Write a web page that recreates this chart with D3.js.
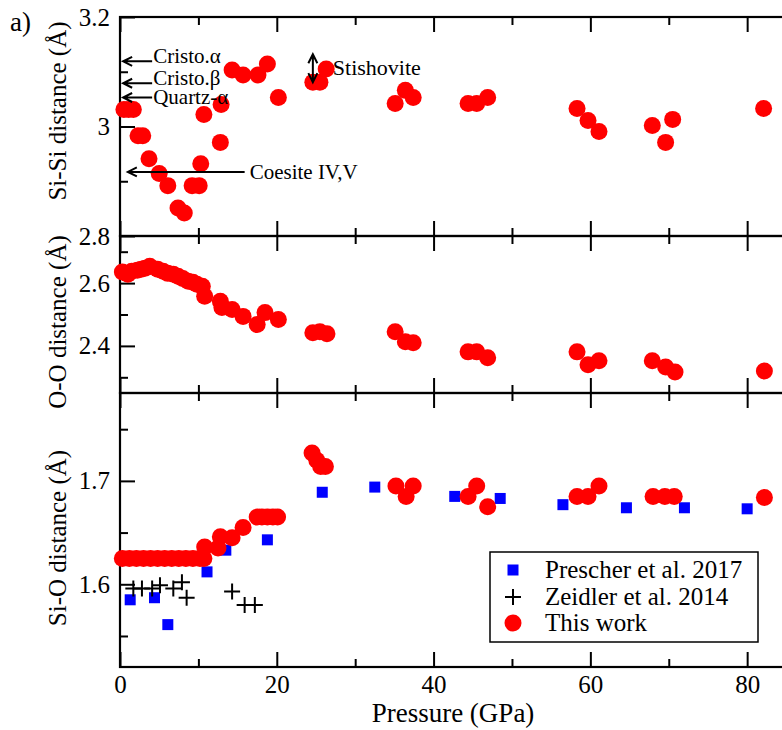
<!DOCTYPE html>
<html><head><meta charset="utf-8">
<script src="https://cdn.jsdelivr.net/npm/d3@7"></script>
<style>html,body{margin:0;padding:0;background:#fff;}</style>
</head>
<body><svg id="c" width="782" height="730" font-family="Liberation Serif"></svg>
<script>
// ---------- DATA ----------
const siSiP = [0.5,1.1,1.7,2.3,2.9,3.7,5.0,6.1,7.4,8.2,9.2,10.1,10.3,10.7,12.8,12.9,14.3,15.7,17.6,18.8,20.2,24.6,25.5,26.3,35.1,36.4,37.4,44.4,45.5,46.9,58.3,59.7,61.1,67.9,69.6,70.5,82.1];
const siSiV = [3.031,3.031,3.031,2.983,2.983,2.941,2.914,2.892,2.851,2.842,2.892,2.892,2.932,3.022,2.971,3.040,3.103,3.094,3.094,3.114,3.053,3.081,3.081,3.105,3.042,3.066,3.053,3.042,3.042,3.053,3.033,3.011,2.991,3.002,2.971,3.013,3.033];

const ooP = [0.3,1.0,1.5,2.2,2.7,3.2,3.8,4.8,5.5,6.1,6.8,7.4,8.0,8.7,9.3,9.8,10.5,10.8,12.8,13.0,14.3,15.7,17.5,18.5,20.2,24.6,25.5,26.4,35.1,36.4,37.4,44.4,45.5,46.9,58.3,59.7,61.1,67.9,69.6,70.8,82.2];
const ooV = [2.635,2.628,2.638,2.641,2.644,2.647,2.654,2.644,2.638,2.631,2.628,2.622,2.615,2.606,2.603,2.596,2.590,2.558,2.542,2.522,2.516,2.494,2.468,2.506,2.484,2.442,2.445,2.439,2.445,2.413,2.410,2.381,2.381,2.362,2.381,2.340,2.353,2.353,2.333,2.317,2.320];

const siOP = [0.3,1.2,2.1,3.0,3.9,4.8,5.7,6.6,7.5,8.4,9.3,10.2,10.7,10.8,12.5,12.8,14.3,15.7,17.5,18.1,18.8,19.5,20.1,24.5,25.1,25.6,26.2,35.2,36.5,37.4,44.4,45.5,46.9,58.3,59.7,61.1,68.0,69.5,70.7,82.2];
const siOV = [1.625,1.625,1.625,1.625,1.625,1.625,1.625,1.625,1.625,1.625,1.625,1.625,1.625,1.636,1.635,1.646,1.645,1.655,1.665,1.665,1.665,1.665,1.665,1.727,1.720,1.714,1.714,1.695,1.685,1.695,1.685,1.695,1.675,1.685,1.685,1.695,1.685,1.685,1.685,1.684];

const prescherP = [1.3,4.4,6.1,11.1,13.5,18.8,25.8,32.5,42.7,48.5,56.5,64.6,72.0,80.0];
const prescherV = [1.585,1.587,1.561,1.612,1.633,1.643,1.689,1.694,1.685,1.683,1.677,1.674,1.674,1.673];

const zeidlerP = [1.7,2.8,4.1,5.1,6.8,7.9,8.5,14.3,15.9,17.2];
const zeidlerV = [1.596,1.596,1.596,1.599,1.596,1.602,1.587,1.593,1.580,1.580];

const xMajor = [0,20,40,60,80];
const xMinor = [10,30,50,70];
const legendLabels = ["Prescher et al. 2017","Zeidler et al. 2014","This work"];

const annotations = [
  {label:"Cristo.\u03b1", y:3.119, x0:0.4, x1:4.1},
  {label:"Cristo.\u03b2", y:3.079, x0:0.4, x1:4.1},
  {label:"Quartz-\u03b1", y:3.053, x0:0.4, x1:4.1},
  {label:"Coesite IV,V", y:2.917, x0:1.0, x1:15.9}
];
const stishovite = {label:"Stishovite", x:24.6, y0:3.132, y1:3.081};

// ---------- LAYOUT ----------
const FONT = "Liberation Serif";
const svg = d3.select("#c");
const x = d3.scaleLinear().domain([0, 84.7]).range([120, 784]);

function txt(parent, s, size) {
  return parent.append("text").attr("font-family", FONT).attr("font-size", size).attr("fill","#000").text(s);
}

const panels = [
  {domain:[2.8,3.2], range:[236,17], major:[2.8,3.0,3.2], minor:[2.9,3.1], fmt:d=>String(+d.toFixed(1)), title:"Si-Si distance (\u00c5)", tcy:111},
  {domain:[2.25,2.75], range:[393,236], major:[2.4,2.6], minor:[2.3,2.5,2.7], fmt:d=>d.toFixed(1), title:"O-O distance (\u00c5)", tcy:322},
  {domain:[1.52,1.785], range:[667,393], major:[1.6,1.7], minor:[1.55,1.65,1.75], fmt:d=>d.toFixed(1), title:"Si-O distance (\u00c5)", tcy:538}
];
panels.forEach(p => p.y = d3.scaleLinear().domain(p.domain).range(p.range));

const FS = 25;

panels.forEach((p, i) => {
  const top = p.range[1], bot = p.range[0];
  const g = svg.append("g");
  const la = g.append("g").attr("transform","translate(120,0)")
    .call(d3.axisLeft(p.y).tickValues(p.major).tickSize(-15).tickPadding(10).tickFormat(p.fmt));
  const lm = g.append("g").attr("transform","translate(120,0)")
    .call(d3.axisLeft(p.y).tickValues(p.minor).tickSize(-8).tickFormat(""));
  const ta = g.append("g").attr("transform",`translate(0,${top})`)
    .call(d3.axisTop(x).tickValues(xMajor).tickSize(-15).tickFormat(""));
  const tm = g.append("g").attr("transform",`translate(0,${top})`)
    .call(d3.axisTop(x).tickValues(xMinor).tickSize(-8).tickFormat(""));
  const ba = g.append("g").attr("transform",`translate(0,${bot})`)
    .call(d3.axisBottom(x).tickValues(xMajor).tickSize(-15).tickPadding(8)
      .tickFormat(i===2 ? d3.format("d") : ""));
  const bm = g.append("g").attr("transform",`translate(0,${bot})`)
    .call(d3.axisBottom(x).tickValues(xMinor).tickSize(-8).tickFormat(""));
  [la,lm,ta,tm,ba,bm].forEach(a => {
    a.attr("font-family", FONT);
    a.select(".domain").remove();
    a.selectAll("line").attr("stroke","#000").attr("stroke-width",2);
    a.selectAll("text").attr("font-family", FONT).attr("font-size",FS).attr("fill","#000");
  });
  g.append("rect").attr("x",120).attr("y",top).attr("width",664).attr("height",bot-top)
    .attr("fill","none").attr("stroke","#000").attr("stroke-width",2.2);
  txt(svg, p.title, FS).attr("transform",`translate(66,${p.tcy}) rotate(-90)`).attr("text-anchor","middle");
});

txt(svg, "Pressure (GPa)", 27).attr("x",453).attr("y",722).attr("text-anchor","middle");
txt(svg, "a)", 27).attr("x",10).attr("y",31);

const RED = "#ff0000", BLUE = "#0000ff";
const R = 8.5, SQ = 11, CR = 8;

function circles(P, V, y) {
  svg.append("g").selectAll("circle").data(P).join("circle")
    .attr("cx", d => x(d)).attr("cy", (d,i) => y(V[i])).attr("r", R).attr("fill", RED);
}
function squares(P, V, y) {
  svg.append("g").selectAll("rect").data(P).join("rect")
    .attr("x", d => x(d) - SQ/2).attr("y", (d,i) => y(V[i]) - SQ/2)
    .attr("width", SQ).attr("height", SQ).attr("fill", BLUE);
}
function crosses(P, V, y) {
  svg.append("g").selectAll("path").data(P).join("path")
    .attr("d", (d,i) => { const cx = x(d), cy = y(V[i]);
      return `M${cx-CR},${cy}H${cx+CR}M${cx},${cy-CR}V${cy+CR}`; })
    .attr("stroke","#000").attr("stroke-width",2).attr("fill","none");
}

circles(siSiP, siSiV, panels[0].y);
circles(ooP, ooV, panels[1].y);
squares(prescherP, prescherV, panels[2].y);
crosses(zeidlerP, zeidlerV, panels[2].y);
circles(siOP, siOV, panels[2].y);

const y1 = panels[0].y;
annotations.forEach((a, i) => {
  const yy = y1(a.y), xa = x(a.x0), xb = x(a.x1);
  svg.append("path").attr("d",`M${xb},${yy}H${xa}M${xa+9},${yy-4.5}L${xa},${yy}L${xa+9},${yy+4.5}`)
    .attr("stroke","#000").attr("stroke-width",2).attr("fill","none");
  const dy = i === 2 ? 7 : (i === 3 ? 7 : 2);
  txt(svg, a.label, 21).attr("x", xb + (i===3?5:1)).attr("y", yy + dy);
});
{
  const sx = x(stishovite.x), ya = y1(stishovite.y0), yb = y1(stishovite.y1);
  svg.append("path").attr("d",`M${sx},${ya}V${yb}M${sx-4.5},${ya+9}L${sx},${ya}L${sx+4.5},${ya+9}M${sx-4.5},${yb-9}L${sx},${yb}L${sx+4.5},${yb-9}`)
    .attr("stroke","#000").attr("stroke-width",2).attr("fill","none");
  txt(svg, stishovite.label, 22).attr("x", sx + 20).attr("y", (ya+yb)/2 + 7);
}

const lg = svg.append("g");
lg.append("rect").attr("x",490).attr("y",552).attr("width",268).attr("height",90)
  .attr("fill","#fff").attr("stroke","#000").attr("stroke-width",1.5);
const ly = [570,597,623];
lg.append("rect").attr("x",513-SQ/2).attr("y",ly[0]-SQ/2).attr("width",SQ).attr("height",SQ).attr("fill",BLUE);
lg.append("path").attr("d",`M${513-CR},${ly[1]}H${513+CR}M513,${ly[1]-CR}V${ly[1]+CR}`).attr("stroke","#000").attr("stroke-width",2);
lg.append("circle").attr("cx",513).attr("cy",ly[2]).attr("r",R).attr("fill",RED);
legendLabels.forEach((t,i) => txt(lg, t, 25).attr("x",545).attr("y",ly[i]+8));
</script></body></html>
